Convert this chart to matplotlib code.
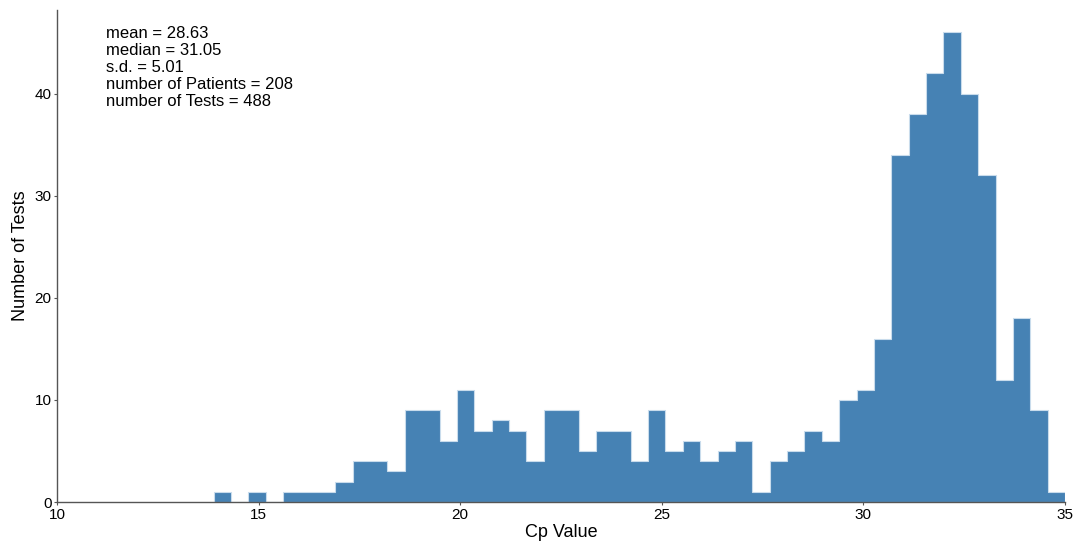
import numpy as np
import matplotlib
matplotlib.use("Agg")
import matplotlib.pyplot as plt

plt.rcParams['font.family'] = ['Liberation Sans', 'DejaVu Sans']

# histogram of Cp values (49 equal bins from the data min to max)
bin_lo = 13.886
bin_hi = 35.0
counts = [1, 0, 1, 0, 1, 1, 1, 2, 4, 4,
          3, 9, 9, 6, 11, 7, 8, 7, 4, 9,
          9, 5, 7, 7, 4, 9, 5, 6, 4, 5,
          6, 1, 4, 5, 7, 6, 10, 11, 16, 34,
          38, 42, 46, 40, 32, 12, 18, 9, 1]

stats_lines = [
    "mean = 28.63",
    "median = 31.05",
    "s.d. = 5.01",
    "number of Patients = 208",
    "number of Tests = 488",
]

edges = np.linspace(bin_lo, bin_hi, len(counts) + 1)
centers = (edges[:-1] + edges[1:]) / 2

fig = plt.figure(figsize=(10.76, 5.45), dpi=100)
ax = fig.add_axes([57 / 1076, 43 / 545, 1008 / 1076, 492 / 545])

ax.hist(centers, bins=edges, weights=counts, histtype='stepfilled',
        facecolor='#4682b4', edgecolor='#c9dcec', linewidth=0.8)

ax.set_xlim(10, 35)
ax.set_ylim(0, 48.2)
ax.set_yticks([0, 10, 20, 30, 40])
ax.set_xticks([10, 15, 20, 25, 30, 35])
ax.set_xlabel('Cp Value', fontsize=13, labelpad=2)
ax.set_ylabel('Number of Tests', fontsize=13, labelpad=4)
ax.tick_params(labelsize=11, length=2, width=0.8, color='#555555', pad=2)

for side in ['top', 'right']:
    ax.spines[side].set_visible(False)
for side in ['left', 'bottom']:
    ax.spines[side].set_color('#555555')
    ax.spines[side].set_linewidth(1.0)

ax.text(0.049, 0.968, "\n".join(stats_lines), transform=ax.transAxes,
        fontsize=12, va='top', ha='left', linespacing=1.17)

fig.savefig('out.png', dpi=100)
